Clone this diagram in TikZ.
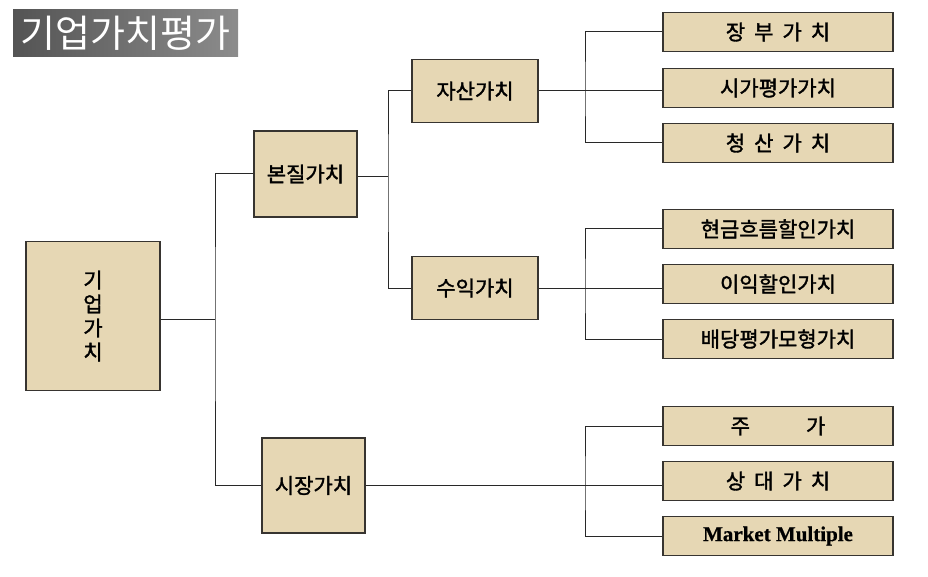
\documentclass[tikz,border=0pt]{standalone}
\usepackage{fontspec}
\setmainfont{Noto Sans CJK KR}
\newfontfamily\krfont{Noto Sans CJK KR}[FakeBold=1.6]
\newfontfamily\titlefont{Noto Sans CJK KR}
\newfontfamily\latinserif{Liberation Serif}[FakeBold=0.6]
\definecolor{paper}{RGB}{230,215,180}
\definecolor{edgec}{RGB}{55,52,48}
\definecolor{wire}{RGB}{40,40,40}
\newcommand{\gp}{\hspace{9pt}}
\begin{document}
\begin{tikzpicture}[x=1pt,y=-1pt,
  box/.style={draw=edgec, line width=1.5pt, fill=paper, inner sep=0pt,
    font=\krfont\fontsize{21}{24}\selectfont, align=center},
  leaf/.style={box, minimum width=230pt, minimum height=39pt},
  mid/.style={box, minimum width=126pt, minimum height=63pt},
  conn/.style={draw=wire, line width=1pt}]
\useasboundingbox (0,0) rectangle (928,577);

% title
\node[inner sep=0pt, minimum width=225pt, minimum height=47pt,
      left color={rgb,255:red,84;green,84;blue,84},
      right color={rgb,255:red,140;green,140;blue,140},
      text=white, font=\titlefont\fontsize{38}{42}\selectfont] (title) at (125.5,33.5) {기업가치평가};

% main boxes
\node[box, minimum width=134pt, minimum height=149pt] (giup) at (93,316) {기\\업\\가\\치};
\node[box, minimum width=103pt, minimum height=86pt] (bonjil) at (305.5,174) {본질가치};
\node[box, minimum width=103pt, minimum height=95pt] (sijang) at (313.5,485.5) {시장가치};
\node[mid] (jasan) at (475,91) {자산가치};
\node[mid] (suik) at (475,288) {수익가치};

% leaves
\node[leaf] (jangbu) at (778,32) {장\gp 부\gp 가\gp 치};
\node[leaf] (sigapy) at (778,88) {시가평가가치};
\node[leaf] (cheong) at (778,143) {청\gp 산\gp 가\gp 치};
\node[leaf] (hyeon) at (778,229) {현금흐름할인가치};
\node[leaf] (iik) at (778,284) {이익할인가치};
\node[leaf] (baedang) at (778,339) {배당평가모형가치};
\node[leaf] (juga) at (778,426) {주\hspace{56pt}가};
\node[leaf] (sangdae) at (778,481) {상\gp 대\gp 가\gp 치};
\node[leaf, font=\latinserif\bfseries\fontsize{21}{24}\selectfont] (mm) at (778,536) {Market Multiple};

% junctions
\coordinate (j1) at (215,319);
\coordinate (j2) at (388,177);
\coordinate (j3) at (585,91);
\coordinate (j4) at (585,288);
\coordinate (j5) at (585,485);

% connectors
\draw[conn] ([yshift=-3pt]giup.east) -- (j1);
\draw[conn] (bonjil.west) -| (j1) |- (sijang.west);
\draw[conn] ([yshift=-3pt]bonjil.east) -- (j2);
\draw[conn] (jasan.west) -| (j2) |- (suik.west);
\draw[conn] (jasan.east) -- (jasan.east -| sigapy.west);
\draw[conn] (jangbu.west) -| (j3) |- (cheong.west);
\draw[conn] (suik.east) -- (suik.east -| iik.west);
\draw[conn] (hyeon.west) -| (j4) |- (baedang.west);
\draw[conn] (sijang.east) -- (sijang.east -| sangdae.west);
\draw[conn] (juga.west) -| (j5) |- (mm.west);
\end{tikzpicture}
\end{document}
